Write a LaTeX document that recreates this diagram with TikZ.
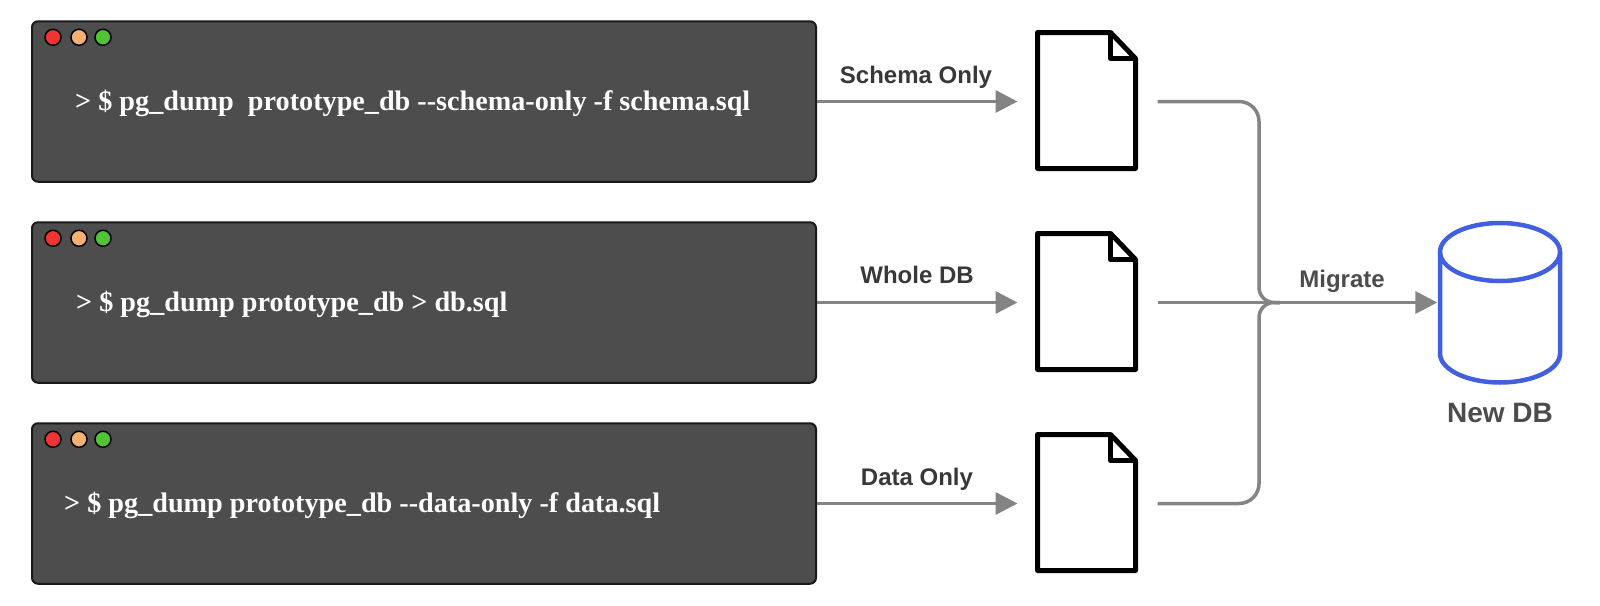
\documentclass[tikz,border=0pt]{standalone}
\usepackage{fontspec}
\setmainfont{Liberation Sans}
\newfontfamily\cmdfont{Liberation Serif}
\usetikzlibrary{calc, arrows.meta}
\definecolor{termgray}{HTML}{4D4D4D}
\definecolor{linkgray}{HTML}{848484}
\definecolor{dbblue}{HTML}{4060E0}
\definecolor{lightred}{HTML}{F23333}
\definecolor{lightorange}{HTML}{F4B173}
\definecolor{lightgreen}{HTML}{50C434}

\begin{document}
\begin{tikzpicture}[x=1pt, y=-1pt,
    termbox/.style={draw=black!90, fill=termgray, line width=2pt, rounded corners=6pt, minimum width=784pt, minimum height=160.5pt, inner sep=0pt},
    light/.style={draw=black, line width=1.5pt},
    cmdtext/.style={anchor=base west, inner sep=0pt, text=white, font=\cmdfont\bfseries\fontsize{28.2}{32}\selectfont},
    docbox/.style={minimum width=100pt, minimum height=136pt, inner sep=0pt, outer sep=20pt},
    docline/.style={draw=black, fill=white, line width=5pt, line join=round},
    link/.style={draw=linkgray, line width=3.5pt},
    linkarrow/.style={link, -{Triangle[length=22pt, width=22pt]}},
    linklabel/.style={anchor=base, inner sep=0pt, text=black!78, font=\bfseries\fontsize{24}{28}\selectfont}]
  \useasboundingbox (0,0) rectangle (1600,605);

  \node[termbox] (schematerm) at (424,101.5) {};
  \node[termbox] (wholeterm) at (424,302.5) {};
  \node[termbox] (dataterm) at (424,503.5) {};
  \foreach \term in {schematerm, wholeterm, dataterm} {
    \filldraw[light, fill=lightred] ($(\term.north west)+(22,17)$) circle (8);
    \filldraw[light, fill=lightorange] ($(\term.north west)+(48,17)$) circle (8);
    \filldraw[light, fill=lightgreen] ($(\term.north west)+(72,17)$) circle (8);
  }
  \node[cmdtext] (schemacmd) at (75,110) {> \$ pg\_dump\ \ prototype\_db -{}-schema-only -f schema.sql};
  \node[cmdtext] (wholecmd) at (76,311) {> \$ pg\_dump prototype\_db > db.sql};
  \node[cmdtext] (datacmd) at (64,512) {> \$ pg\_dump prototype\_db -{}-data-only -f data.sql};

  \node[docbox] (schemafile) at (1087.5,101.5) {};
  \node[docbox] (wholefile) at (1087.5,302.5) {};
  \node[docbox] (datafile) at (1087.5,503.5) {};
  % page outline, then the folded corner
  \foreach \file in {schemafile, wholefile, datafile} {
    \draw[docline] ($(\file)+(-50,-69)$) -- ($(\file)+(23,-69)$) -- ($(\file)+(48,-43)$) -- ($(\file)+(48,67)$) -- ($(\file)+(-50,67)$) -- cycle;
    \draw[docline, fill=none] ($(\file)+(23,-69)$) -- ($(\file)+(23,-43)$) -- ($(\file)+(48,-43)$);
  }

  \draw[linkarrow] (schematerm) -- (schemafile);
  \draw[linkarrow] (wholeterm) -- (wholefile);
  \draw[linkarrow] (dataterm) -- (datafile);
  \node[linklabel] (schemalabel) at (916,83) {Schema Only};
  \node[linklabel] (wholelabel) at (917,283) {Whole DB};
  \node[linklabel] (datalabel) at (917,485) {Data Only};

  % cylinder drawn round an empty node
  \node[minimum width=125pt, minimum height=161pt, inner sep=0pt] (newdb) at (1500,302.5) {};
  \draw[dbblue, line width=4.5pt] ($(newdb)+(-60,-50.5)$) -- ($(newdb)+(-60,51)$) arc[start angle=180, end angle=0, x radius=60, y radius=29] -- ($(newdb)+(60,-50.5)$);
  \draw[dbblue, line width=4.5pt] ($(newdb)+(0,-50.5)$) ellipse (60 and 29);
  \node[linklabel, text=black!70, font=\bfseries\fontsize{28}{32}\selectfont] (newdblabel) at (1500,422) {New DB};

  \coordinate (bus) at (1259,302.5);
  \coordinate (merge) at (1280,302.5);
  \draw[link] (schemafile.east) [rounded corners=20pt] -- (bus |- schemafile.east) [rounded corners=15pt] -- (bus) -- (merge);
  \draw[link] (datafile.east) [rounded corners=20pt] -- (bus |- datafile.east) [rounded corners=15pt] -- (bus) -- (merge);
  \draw[link] (wholefile.east) -- (merge);
  \draw[linkarrow] (merge) -- (newdb);
  \node[linklabel, text=black!70] (migratelabel) at (1342,287) {Migrate};
\end{tikzpicture}
\end{document}
